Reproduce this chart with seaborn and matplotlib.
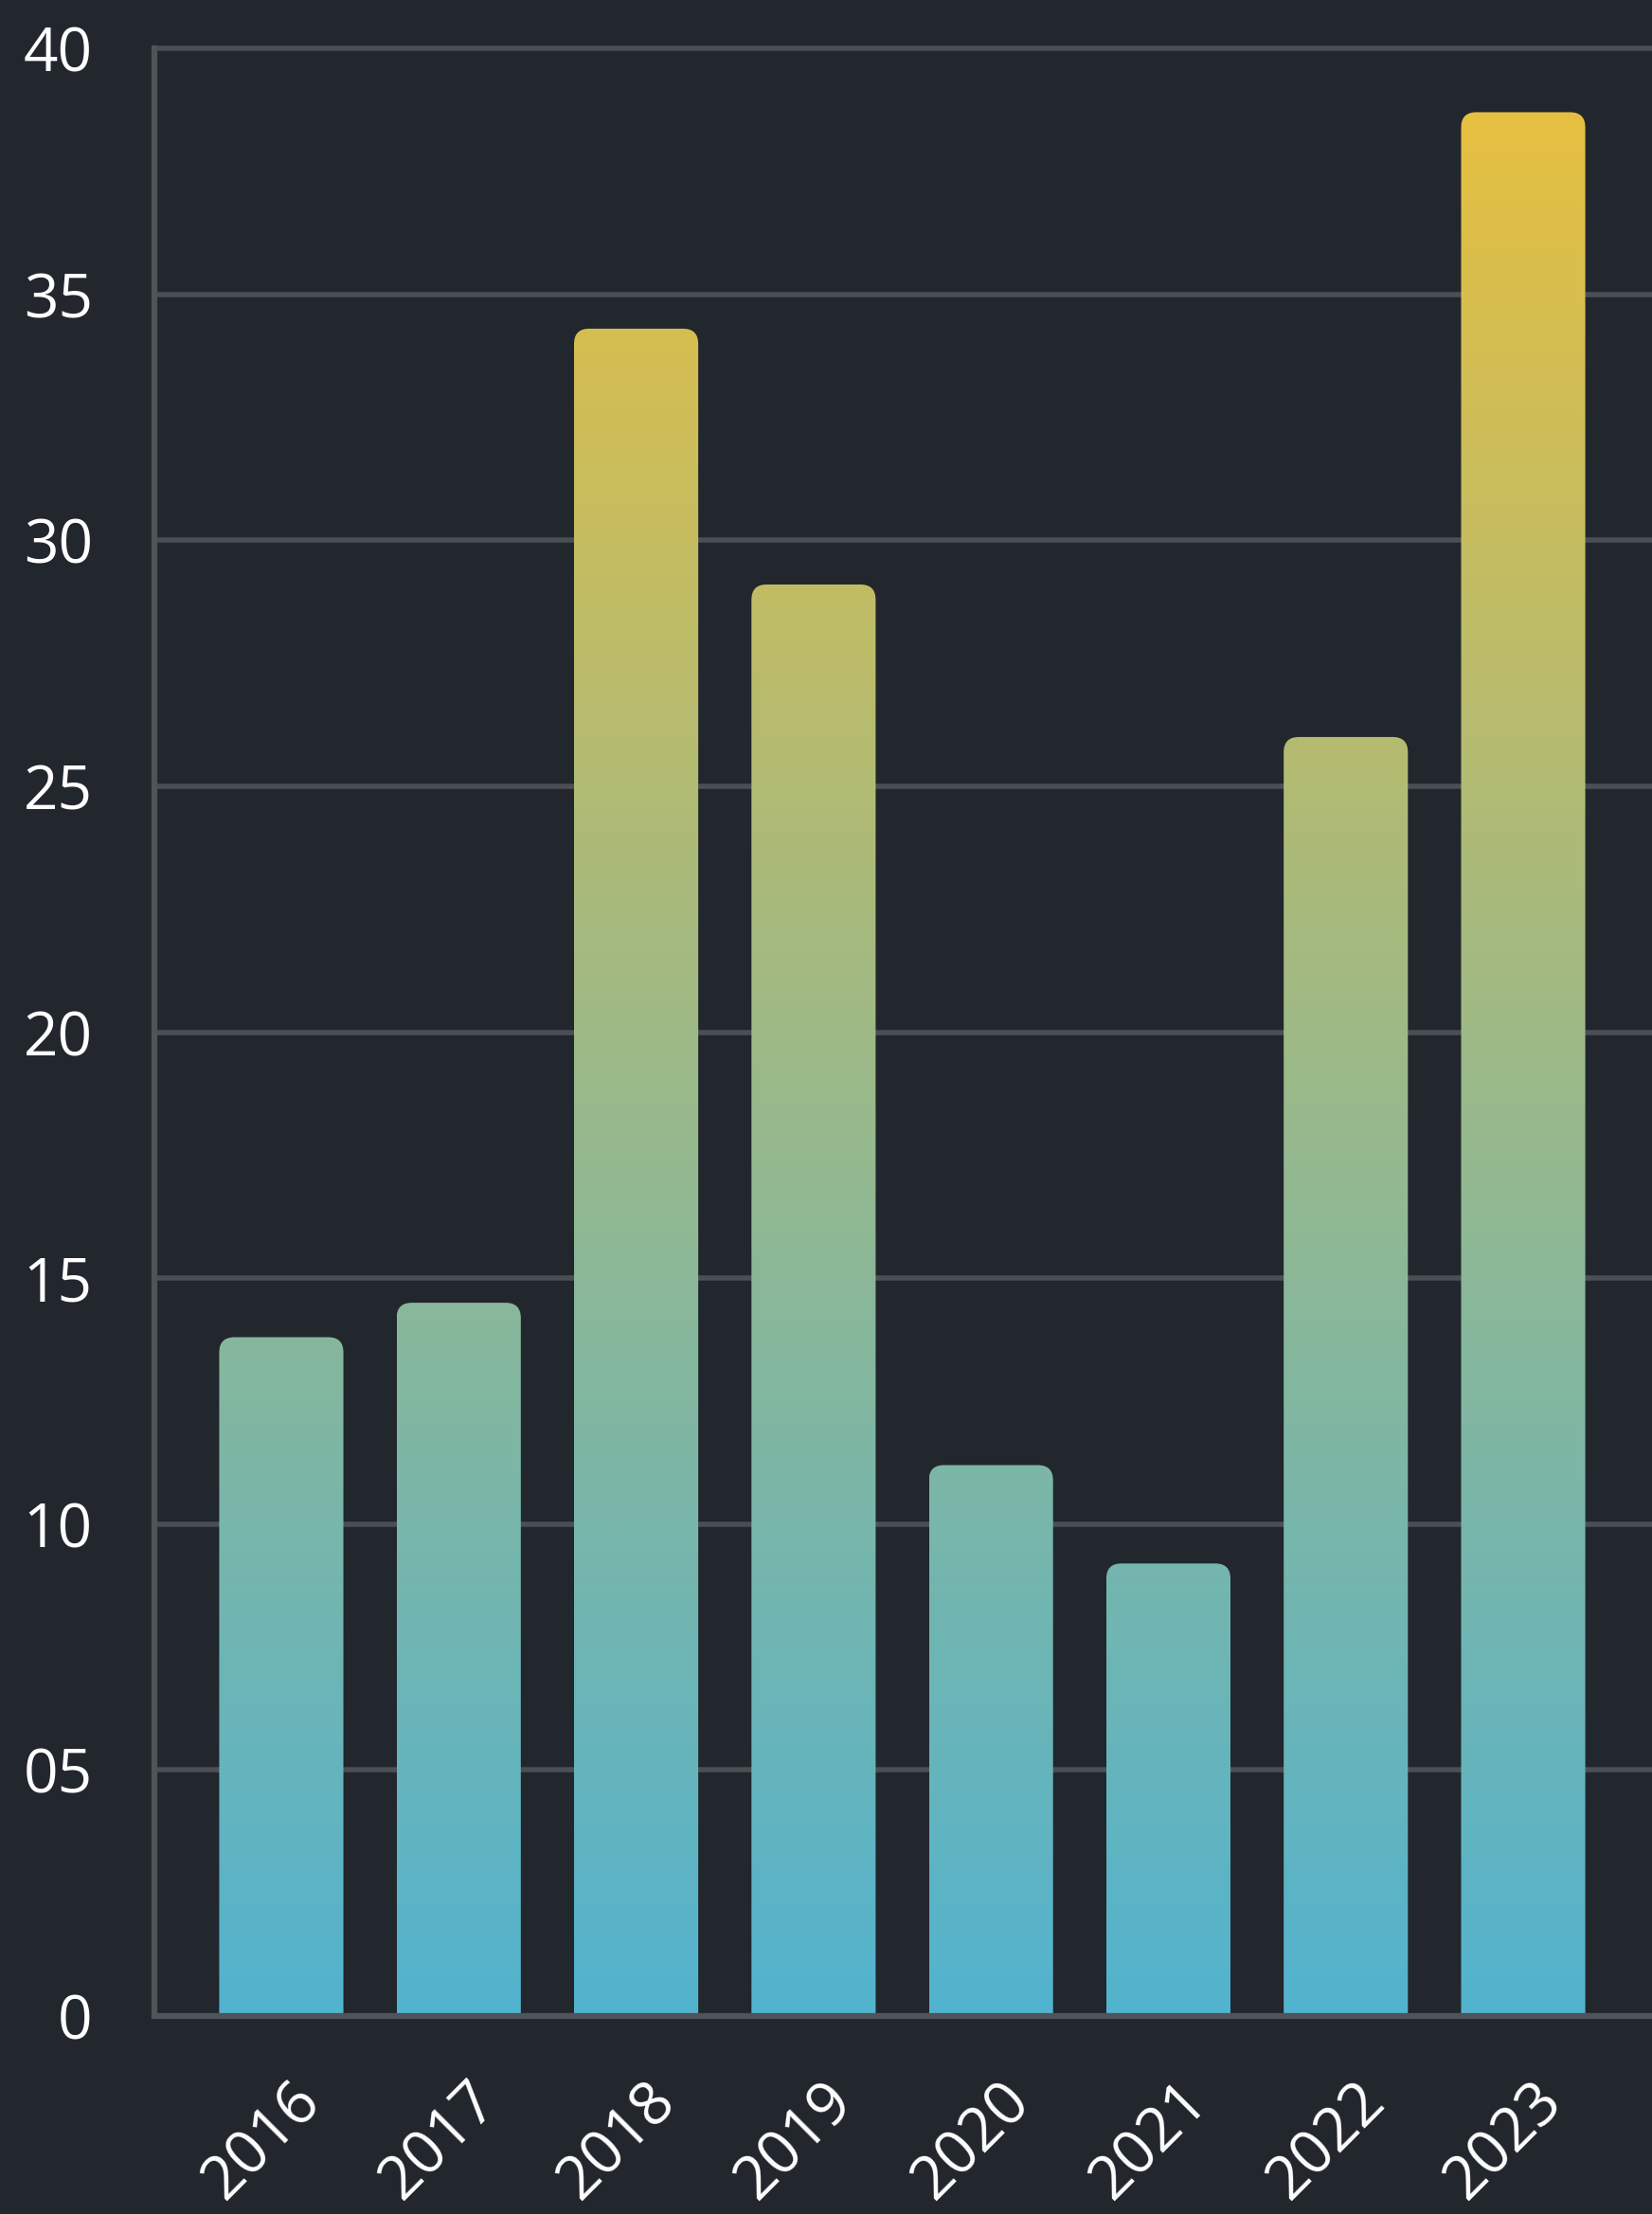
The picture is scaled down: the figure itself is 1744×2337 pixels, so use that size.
import numpy as np
import matplotlib
matplotlib.use("Agg")
import matplotlib.pyplot as plt
import matplotlib.transforms as mtransforms
from matplotlib.colors import LinearSegmentedColormap
from matplotlib.patches import FancyBboxPatch
import seaborn as sns

years = ["2016", "2017", "2018", "2019", "2020", "2021", "2022", "2023"]
values = [13.8, 14.5, 34.3, 29.1, 11.2, 9.2, 26.0, 38.7]
yticks = [0, 5, 10, 15, 20, 25, 30, 35, 40]
ytick_labels = ["0", "05", "10", "15", "20", "25", "30", "35", "40"]

bg = "#22262d"
grid_col = "#4b4f54"
spine_col = "#505459"
grad = LinearSegmentedColormap.from_list("grad", ["#52b3cf", "#ebc03c"])

sns.set_style("dark")
plt.rcParams["font.family"] = ["Open Sans", "DejaVu Sans"]

fig = plt.figure(figsize=(17.44, 23.37), dpi=100, facecolor=bg)
ax = fig.add_axes([0.0935, 0.0894, 0.9065, 0.8888])
ax.set_facecolor(bg)

sns.barplot(x=years, y=values, ax=ax, width=0.7, color="#52b3cf")

xlim = (-0.715, 7.726)
ylim = (0, 40)
ax.set_xlim(*xlim)
ax.set_ylim(*ylim)
ax.set_autoscale_on(False)

# rounded tops: keep corner radius round in pixels
px_x = ax.bbox.width / (xlim[1] - xlim[0])
px_y = ax.bbox.height / (ylim[1] - ylim[0])
r = 16 / px_x

gy = np.linspace(0, 1, 512).reshape(-1, 1)
for bar in list(ax.patches):
    x0, w, h = bar.get_x(), bar.get_width(), bar.get_height()
    bar.set_visible(False)
    clip = FancyBboxPatch((x0, -2), w, h + 2,
                          boxstyle=f"round,pad=0,rounding_size={r}",
                          mutation_aspect=px_x / px_y,
                          fc="none", ec="none", transform=ax.transData)
    ax.add_patch(clip)
    im = ax.imshow(gy, cmap=grad, extent=[x0, x0 + w, 0, 40], origin="lower",
                   aspect="auto", zorder=2, interpolation="bilinear")
    im.set_clip_path(clip)

ax.set_xlim(*xlim)
ax.set_ylim(*ylim)

ax.set_axisbelow(True)
ax.yaxis.grid(True, color=grid_col, lw=4)
ax.xaxis.grid(False)
for gl in ax.get_ygridlines():
    gl.set_clip_on(False)

for s in ["top", "right"]:
    ax.spines[s].set_visible(False)
for s in ["left", "bottom"]:
    ax.spines[s].set_color(spine_col)
    ax.spines[s].set_linewidth(4.5)

ax.set_yticks(yticks, ytick_labels)
ax.tick_params(axis="y", length=0, pad=47, labelsize=46, labelcolor="white")
ax.tick_params(axis="x", length=0, pad=58, labelsize=46, labelcolor="white")
ax.set_xlabel("")
ax.set_ylabel("")

offset = mtransforms.ScaledTranslation(0.32, 0, fig.dpi_scale_trans)
for lab in ax.get_xticklabels():
    lab.set_rotation(45)
    lab.set_ha("right")
    lab.set_va("center")
    lab.set_rotation_mode("anchor")
    lab.set_transform(lab.get_transform() + offset)

fig.savefig("out.png", dpi=100, facecolor=bg)
